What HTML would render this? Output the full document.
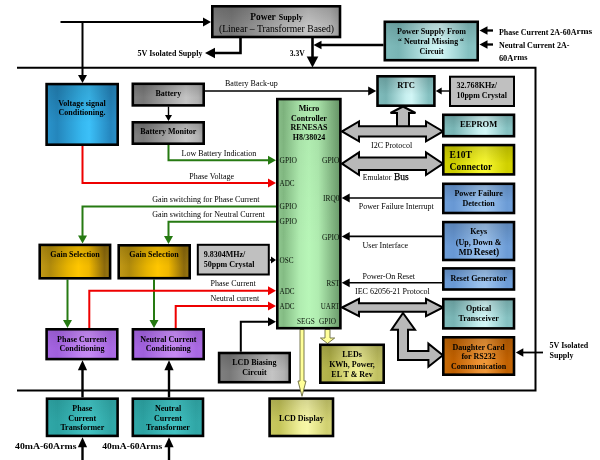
<!DOCTYPE html>
<html><head><meta charset="utf-8"><title>Energy meter block diagram</title>
<style>html,body{margin:0;padding:0;background:#fff;width:600px;height:460px;overflow:hidden}svg{display:block;filter:blur(0.35px);font-family:"Liberation Serif",serif}</style>
</head><body>
<svg width="600" height="460" viewBox="0 0 600 460" font-family='"Liberation Serif", serif'>
<defs><linearGradient id="g_gray" x1="0" y1="0" x2="1" y2="0"><stop offset="0" stop-color="#808080"/><stop offset="0.15" stop-color="#787878"/><stop offset="0.55" stop-color="#acacac"/><stop offset="0.75" stop-color="#c4c4c4"/><stop offset="0.92" stop-color="#b2b2b2"/><stop offset="1" stop-color="#989898"/></linearGradient><linearGradient id="g_blue" x1="0" y1="0" x2="1" y2="0"><stop offset="0" stop-color="#2a94cc"/><stop offset="0.15" stop-color="#2486bc"/><stop offset="0.5" stop-color="#36b8f0"/><stop offset="0.6" stop-color="#3cc0f8"/><stop offset="0.9" stop-color="#2586be"/><stop offset="1" stop-color="#2a90c8"/></linearGradient><linearGradient id="g_green" x1="0" y1="0" x2="1" y2="0"><stop offset="0" stop-color="#90c890"/><stop offset="0.1" stop-color="#84bc84"/><stop offset="0.35" stop-color="#b0ecb0"/><stop offset="0.5" stop-color="#b8f6b8"/><stop offset="0.65" stop-color="#b0ecb0"/><stop offset="0.88" stop-color="#82b682"/><stop offset="1" stop-color="#6a9a6a"/></linearGradient><linearGradient id="g_tealL" x1="0" y1="0" x2="1" y2="0"><stop offset="0" stop-color="#80bcbc"/><stop offset="0.15" stop-color="#78b4b4"/><stop offset="0.5" stop-color="#c8f0f0"/><stop offset="0.6" stop-color="#d2f6f6"/><stop offset="0.9" stop-color="#84c0c0"/><stop offset="1" stop-color="#8ac4c4"/></linearGradient><linearGradient id="g_yellow" x1="0" y1="0" x2="1" y2="0"><stop offset="0" stop-color="#d4d400"/><stop offset="0.15" stop-color="#cccc00"/><stop offset="0.5" stop-color="#f4f428"/><stop offset="0.6" stop-color="#f8f830"/><stop offset="0.9" stop-color="#d0d000"/><stop offset="1" stop-color="#d4d400"/></linearGradient><linearGradient id="g_blue2" x1="0" y1="0" x2="1" y2="0"><stop offset="0" stop-color="#6e9ed8"/><stop offset="0.15" stop-color="#6898d4"/><stop offset="0.5" stop-color="#98c0ec"/><stop offset="0.6" stop-color="#9ec4ee"/><stop offset="0.9" stop-color="#6c9cd6"/><stop offset="1" stop-color="#70a0da"/></linearGradient><linearGradient id="g_orange" x1="0" y1="0" x2="1" y2="0"><stop offset="0" stop-color="#c86c08"/><stop offset="0.15" stop-color="#c06000"/><stop offset="0.5" stop-color="#ec9234"/><stop offset="0.6" stop-color="#f09838"/><stop offset="0.9" stop-color="#c06000"/><stop offset="1" stop-color="#c46808"/></linearGradient><linearGradient id="g_gold" x1="0" y1="0" x2="1" y2="0"><stop offset="0" stop-color="#c29a18"/><stop offset="0.15" stop-color="#b08a0c"/><stop offset="0.4" stop-color="#e8b400"/><stop offset="0.55" stop-color="#ffc600"/><stop offset="0.7" stop-color="#f0b800"/><stop offset="0.92" stop-color="#8c6a0c"/><stop offset="1" stop-color="#9a7812"/></linearGradient><linearGradient id="g_purple" x1="0" y1="0" x2="1" y2="0"><stop offset="0" stop-color="#a666e2"/><stop offset="0.15" stop-color="#a060dc"/><stop offset="0.5" stop-color="#c286f2"/><stop offset="0.6" stop-color="#c68af4"/><stop offset="0.9" stop-color="#a868e2"/><stop offset="1" stop-color="#ac6ce4"/></linearGradient><linearGradient id="g_olive" x1="0" y1="0" x2="1" y2="0"><stop offset="0" stop-color="#b8b850"/><stop offset="0.15" stop-color="#b0b048"/><stop offset="0.5" stop-color="#ecec90"/><stop offset="0.6" stop-color="#f0f098"/><stop offset="0.9" stop-color="#c0c060"/><stop offset="1" stop-color="#c4c468"/></linearGradient><linearGradient id="g_lcd" x1="0" y1="0" x2="1" y2="0"><stop offset="0" stop-color="#c8c860"/><stop offset="0.15" stop-color="#c4c458"/><stop offset="0.5" stop-color="#f4f4a0"/><stop offset="0.6" stop-color="#f8f8a8"/><stop offset="0.9" stop-color="#d0d070"/><stop offset="1" stop-color="#d4d478"/></linearGradient><linearGradient id="g_teal" x1="0" y1="0" x2="1" y2="0"><stop offset="0" stop-color="#30a8a8"/><stop offset="0.15" stop-color="#2ca2a2"/><stop offset="0.5" stop-color="#3ebebe"/><stop offset="0.6" stop-color="#42c2c2"/><stop offset="0.9" stop-color="#30a6a6"/><stop offset="1" stop-color="#32aaaa"/></linearGradient><linearGradient id="g_shade" x1="0" y1="0" x2="0" y2="1"><stop offset="0" stop-color="#000" stop-opacity="0.14"/><stop offset="0.65" stop-color="#000" stop-opacity="0"/></linearGradient></defs>
<rect width="600" height="460" fill="#fff"/>
<polyline points="17,67.8 535.5,67.8 535.5,390.5 17,390.5" fill="none" stroke="#000" stroke-width="2" stroke-linejoin="miter" stroke-linecap="butt"/>
<polyline points="60.5,22 205,22" fill="none" stroke="#000" stroke-width="2" stroke-linejoin="miter" stroke-linecap="butt"/>
<polygon points="211.00,22.00 203.00,17.50 203.00,26.50" fill="#000"/>
<polyline points="82.5,22 82.5,76" fill="none" stroke="#000" stroke-width="2" stroke-linejoin="miter" stroke-linecap="butt"/>
<polygon points="82.50,83.00 78.00,75.00 87.00,75.00" fill="#000"/>
<polyline points="240.5,37 240.5,53 212,53" fill="none" stroke="#000" stroke-width="2.6" stroke-linejoin="miter" stroke-linecap="butt"/>
<polygon points="205.00,53.00 215.00,47.70 215.00,58.30" fill="#000"/>
<polyline points="312.5,37 312.5,57" fill="none" stroke="#000" stroke-width="2.6" stroke-linejoin="miter" stroke-linecap="butt"/>
<polygon points="312.50,67.50 306.70,56.50 318.30,56.50" fill="#000"/>
<polyline points="383.5,45 320,45" fill="none" stroke="#000" stroke-width="2.3" stroke-linejoin="miter" stroke-linecap="butt"/>
<polygon points="313.50,45.00 321.50,40.70 321.50,49.30" fill="#000"/>
<polyline points="493,30.5 486,30.5" fill="none" stroke="#000" stroke-width="2.3" stroke-linejoin="miter" stroke-linecap="butt"/>
<polygon points="479.50,30.50 487.50,26.20 487.50,34.80" fill="#000"/>
<polyline points="493,44.5 486,44.5" fill="none" stroke="#000" stroke-width="2.3" stroke-linejoin="miter" stroke-linecap="butt"/>
<polygon points="479.50,44.50 487.50,40.20 487.50,48.80" fill="#000"/>
<polyline points="205,91 369,91" fill="none" stroke="#000" stroke-width="1.6" stroke-linejoin="miter" stroke-linecap="butt"/>
<polygon points="376.20,91.00 368.20,86.60 368.20,95.40" fill="#000"/>
<polyline points="449,91 440,91" fill="none" stroke="#000" stroke-width="1.4" stroke-linejoin="miter" stroke-linecap="butt"/>
<polygon points="435.70,91.00 441.70,87.50 441.70,94.50" fill="#000"/>
<polyline points="168.5,106.5 168.5,116" fill="none" stroke="#000" stroke-width="1.4" stroke-linejoin="miter" stroke-linecap="butt"/>
<polygon points="168.50,121.00 165.00,115.00 172.00,115.00" fill="#000"/>
<polyline points="168.5,145 168.5,160.3 268,160.3" fill="none" stroke="#267a12" stroke-width="2" stroke-linejoin="miter" stroke-linecap="butt"/>
<polygon points="276.00,160.30 268.00,155.80 268.00,164.80" fill="#267a12"/>
<polyline points="82.5,145.5 82.5,183 268,183" fill="none" stroke="#ee0000" stroke-width="2" stroke-linejoin="miter" stroke-linecap="butt"/>
<polygon points="276.00,183.00 268.00,178.50 268.00,187.50" fill="#ee0000"/>
<polyline points="276,206.5 82.5,206.5 82.5,236" fill="none" stroke="#267a12" stroke-width="2" stroke-linejoin="miter" stroke-linecap="butt"/>
<polygon points="82.50,243.60 78.00,235.60 87.00,235.60" fill="#267a12"/>
<polyline points="276,221.7 168.5,221.7 168.5,236" fill="none" stroke="#267a12" stroke-width="2" stroke-linejoin="miter" stroke-linecap="butt"/>
<polygon points="168.50,244.00 164.00,236.00 173.00,236.00" fill="#267a12"/>
<polyline points="67.5,279.6 67.5,320" fill="none" stroke="#267a12" stroke-width="2" stroke-linejoin="miter" stroke-linecap="butt"/>
<polygon points="67.50,328.00 63.00,320.00 72.00,320.00" fill="#267a12"/>
<polyline points="154,279.5 154,320" fill="none" stroke="#267a12" stroke-width="2" stroke-linejoin="miter" stroke-linecap="butt"/>
<polygon points="154.00,328.00 149.50,320.00 158.50,320.00" fill="#267a12"/>
<polyline points="89.3,328 89.3,290.8 268,290.8" fill="none" stroke="#ee0000" stroke-width="2" stroke-linejoin="miter" stroke-linecap="butt"/>
<polygon points="276.00,290.80 268.00,286.30 268.00,295.30" fill="#ee0000"/>
<polyline points="175.7,328 175.7,306 268,306" fill="none" stroke="#ee0000" stroke-width="2" stroke-linejoin="miter" stroke-linecap="butt"/>
<polygon points="276.00,306.00 268.00,301.50 268.00,310.50" fill="#ee0000"/>
<polyline points="269.8,260 271,260" fill="none" stroke="#000" stroke-width="1.4" stroke-linejoin="miter" stroke-linecap="butt"/>
<polygon points="276.00,260.00 271.00,256.50 271.00,263.50" fill="#000"/>
<polyline points="240.8,351.7 240.8,321.7 268,321.7" fill="none" stroke="#000" stroke-width="2" stroke-linejoin="miter" stroke-linecap="butt"/>
<polygon points="276.00,321.70 268.00,317.20 268.00,326.20" fill="#000"/>
<polyline points="82.5,397.4 82.5,369" fill="none" stroke="#000" stroke-width="2.4" stroke-linejoin="miter" stroke-linecap="butt"/>
<polygon points="82.50,360.20 77.90,370.20 87.10,370.20" fill="#000"/>
<polyline points="169,397.4 169,369" fill="none" stroke="#000" stroke-width="2.4" stroke-linejoin="miter" stroke-linecap="butt"/>
<polygon points="169.00,360.20 164.40,370.20 173.60,370.20" fill="#000"/>
<polyline points="82.5,460 82.5,446" fill="none" stroke="#000" stroke-width="2.4" stroke-linejoin="miter" stroke-linecap="butt"/>
<polygon points="82.50,437.20 77.90,447.20 87.10,447.20" fill="#000"/>
<polyline points="169,460 169,446" fill="none" stroke="#000" stroke-width="2.4" stroke-linejoin="miter" stroke-linecap="butt"/>
<polygon points="169.00,437.20 164.40,447.20 173.60,447.20" fill="#000"/>
<polyline points="442,198 349,198" fill="none" stroke="#000" stroke-width="1.6" stroke-linejoin="miter" stroke-linecap="butt"/>
<polygon points="341.70,198.00 349.70,193.60 349.70,202.40" fill="#000"/>
<polyline points="442,236.4 349,236.4" fill="none" stroke="#000" stroke-width="1.6" stroke-linejoin="miter" stroke-linecap="butt"/>
<polygon points="341.70,236.40 349.70,232.00 349.70,240.80" fill="#000"/>
<polyline points="442,282.8 349,282.8" fill="none" stroke="#000" stroke-width="1.6" stroke-linejoin="miter" stroke-linecap="butt"/>
<polygon points="341.70,282.80 349.70,278.40 349.70,287.20" fill="#000"/>
<polyline points="543,352.5 523,352.5" fill="none" stroke="#000" stroke-width="1.8" stroke-linejoin="miter" stroke-linecap="butt"/>
<polygon points="515.80,352.50 523.30,348.20 523.30,356.80" fill="#000"/>
<polygon points="403.00,106.50 415.50,113.00 409.00,113.00 409.00,127.00 397.00,127.00 397.00,113.00 390.50,113.00" fill="#b8b8b8" stroke="#000" stroke-width="2" stroke-linejoin="miter"/>
<polygon points="342.00,131.40 359.00,121.50 359.00,126.30 426.00,126.30 426.00,121.50 443.00,131.40 426.00,141.30 426.00,136.50 359.00,136.50 359.00,141.30" fill="#b8b8b8" stroke="#000" stroke-width="2" stroke-linejoin="miter"/>
<polygon points="342.00,163.70 359.00,152.40 359.00,157.50 426.00,157.50 426.00,152.40 443.00,163.70 426.00,175.00 426.00,169.90 359.00,169.90 359.00,175.00" fill="#b8b8b8" stroke="#000" stroke-width="2" stroke-linejoin="miter"/>
<polygon points="342.00,307.50 359.00,298.90 359.00,303.20 426.00,303.20 426.00,298.90 443.00,307.50 426.00,316.10 426.00,311.80 359.00,311.80 359.00,316.10" fill="#b8b8b8" stroke="#000" stroke-width="2" stroke-linejoin="miter"/>
<polygon points="403.00,313.00 415.00,329.70 408.00,329.70 408.00,351.00 428.40,351.00 428.40,343.60 442.80,355.20 428.40,366.70 428.40,360.00 398.00,360.00 398.00,329.70 391.50,329.70" fill="#b8b8b8" stroke="#000" stroke-width="2" stroke-linejoin="miter"/>
<polygon points="300.00,329.50 304.00,329.50 304.00,381.00 306.00,381.00 302.00,396.30 298.00,381.00 300.00,381.00" fill="#ffff99" stroke="#6a6a40" stroke-width="0.9" stroke-linejoin="miter"/>
<polygon points="325.00,329.50 330.00,329.50 330.00,338.00 334.70,338.00 327.50,343.50 320.40,338.00 325.00,338.00" fill="#ffff99" stroke="#6a6a40" stroke-width="0.9" stroke-linejoin="miter"/>
<rect x="212.30" y="6.30" width="127.70" height="30.70" fill="url(#g_gray)" stroke="#000" stroke-width="2.6"/>
<rect x="213.60" y="7.60" width="125.10" height="28.10" fill="url(#g_shade)" opacity="1"/>
<rect x="384.80" y="21.80" width="92.90" height="38.40" fill="url(#g_tealL)" stroke="#000" stroke-width="2.6"/>
<rect x="386.10" y="23.10" width="90.30" height="35.80" fill="url(#g_shade)" opacity="1"/>
<rect x="46.60" y="84.10" width="71.10" height="60.60" fill="url(#g_blue)" stroke="#000" stroke-width="2.6"/>
<rect x="47.90" y="85.40" width="68.50" height="58.00" fill="url(#g_shade)" opacity="1"/>
<rect x="132.80" y="83.80" width="70.90" height="21.60" fill="url(#g_gray)" stroke="#000" stroke-width="2.6"/>
<rect x="134.10" y="85.10" width="68.30" height="19.00" fill="url(#g_shade)" opacity="1"/>
<rect x="132.80" y="122.30" width="70.90" height="21.40" fill="url(#g_gray)" stroke="#000" stroke-width="2.6"/>
<rect x="134.10" y="123.60" width="68.30" height="18.80" fill="url(#g_shade)" opacity="1"/>
<rect x="277.30" y="99.10" width="63.10" height="229.10" fill="url(#g_green)" stroke="#000" stroke-width="2.6"/>
<rect x="278.60" y="100.40" width="60.50" height="226.50" fill="url(#g_shade)" opacity="0.4"/>
<rect x="377.50" y="76.30" width="56.90" height="29.40" fill="url(#g_tealL)" stroke="#000" stroke-width="2.6"/>
<rect x="378.80" y="77.60" width="54.30" height="26.80" fill="url(#g_shade)" opacity="1"/>
<rect x="450.00" y="76.70" width="64.00" height="29.30" fill="#c0c0c0" stroke="#000" stroke-width="2"/>
<rect x="443.30" y="114.80" width="70.70" height="21.40" fill="url(#g_tealL)" stroke="#000" stroke-width="2.6"/>
<rect x="444.60" y="116.10" width="68.10" height="18.80" fill="url(#g_shade)" opacity="1"/>
<rect x="443.30" y="145.10" width="70.70" height="29.30" fill="url(#g_yellow)" stroke="#000" stroke-width="2.6"/>
<rect x="444.60" y="146.40" width="68.10" height="26.70" fill="url(#g_shade)" opacity="1"/>
<rect x="443.30" y="183.80" width="70.70" height="29.20" fill="url(#g_blue2)" stroke="#000" stroke-width="2.6"/>
<rect x="444.60" y="185.10" width="68.10" height="26.60" fill="url(#g_shade)" opacity="1"/>
<rect x="443.30" y="222.10" width="70.70" height="37.90" fill="url(#g_blue2)" stroke="#000" stroke-width="2.6"/>
<rect x="444.60" y="223.40" width="68.10" height="35.30" fill="url(#g_shade)" opacity="1"/>
<rect x="443.30" y="268.40" width="70.70" height="21.10" fill="url(#g_blue2)" stroke="#000" stroke-width="2.6"/>
<rect x="444.60" y="269.70" width="68.10" height="18.50" fill="url(#g_shade)" opacity="1"/>
<rect x="443.30" y="299.10" width="70.70" height="29.30" fill="url(#g_tealL)" stroke="#000" stroke-width="2.6"/>
<rect x="444.60" y="300.40" width="68.10" height="26.70" fill="url(#g_shade)" opacity="1"/>
<rect x="443.30" y="337.30" width="70.70" height="37.40" fill="url(#g_orange)" stroke="#000" stroke-width="2.6"/>
<rect x="444.60" y="338.60" width="68.10" height="34.80" fill="url(#g_shade)" opacity="1"/>
<rect x="39.70" y="244.90" width="70.40" height="33.40" fill="url(#g_gold)" stroke="#000" stroke-width="2.6"/>
<rect x="41.00" y="246.20" width="67.80" height="30.80" fill="url(#g_shade)" opacity="1"/>
<rect x="118.70" y="245.30" width="71.00" height="32.90" fill="url(#g_gold)" stroke="#000" stroke-width="2.6"/>
<rect x="120.00" y="246.60" width="68.40" height="30.30" fill="url(#g_shade)" opacity="1"/>
<rect x="197.80" y="244.80" width="71.00" height="29.70" fill="#c0c0c0" stroke="#000" stroke-width="2"/>
<rect x="46.60" y="329.30" width="70.70" height="29.80" fill="url(#g_purple)" stroke="#000" stroke-width="2.6"/>
<rect x="47.90" y="330.60" width="68.10" height="27.20" fill="url(#g_shade)" opacity="0.6"/>
<rect x="132.90" y="329.30" width="70.80" height="29.80" fill="url(#g_purple)" stroke="#000" stroke-width="2.6"/>
<rect x="134.20" y="330.60" width="68.20" height="27.20" fill="url(#g_shade)" opacity="0.6"/>
<rect x="219.10" y="353.00" width="70.60" height="29.20" fill="url(#g_gray)" stroke="#000" stroke-width="2.6"/>
<rect x="220.40" y="354.30" width="68.00" height="26.60" fill="url(#g_shade)" opacity="1"/>
<rect x="320.30" y="344.80" width="63.40" height="37.90" fill="url(#g_olive)" stroke="#000" stroke-width="2.6"/>
<rect x="321.60" y="346.10" width="60.80" height="35.30" fill="url(#g_shade)" opacity="1"/>
<rect x="269.60" y="398.60" width="63.40" height="37.40" fill="url(#g_lcd)" stroke="#000" stroke-width="2.6"/>
<rect x="270.90" y="399.90" width="60.80" height="34.80" fill="url(#g_shade)" opacity="1"/>
<rect x="47.00" y="398.70" width="70.60" height="37.20" fill="url(#g_teal)" stroke="#000" stroke-width="2.6"/>
<rect x="48.30" y="400.00" width="68.00" height="34.60" fill="url(#g_shade)" opacity="0.5"/>
<rect x="132.80" y="398.70" width="70.20" height="37.20" fill="url(#g_teal)" stroke="#000" stroke-width="2.6"/>
<rect x="134.10" y="400.00" width="67.60" height="34.60" fill="url(#g_shade)" opacity="0.5"/>
<text x="250.2" y="20.1" text-anchor="start"><tspan font-size="9.5" font-weight="bold" textLength="25.6" lengthAdjust="spacingAndGlyphs">Power</tspan><tspan x="278.7" font-size="8.5" font-weight="bold" textLength="24" lengthAdjust="spacingAndGlyphs">Supply</tspan></text>
<text x="276.5" y="31.87" font-size="9.6" font-weight="normal" text-anchor="middle" fill="#000" textLength="115" lengthAdjust="spacingAndGlyphs">(Linear – Transformer Based)</text>
<text x="137.5" y="56.06" font-size="8" font-weight="bold" text-anchor="start" fill="#000" textLength="65" lengthAdjust="spacingAndGlyphs">5V Isolated Supply</text>
<text x="289.8" y="56.06" font-size="8" font-weight="bold" text-anchor="start" fill="#000" textLength="15" lengthAdjust="spacingAndGlyphs">3.3V</text>
<text x="397" y="33.96" font-size="8" font-weight="bold" text-anchor="start" fill="#000" textLength="69" lengthAdjust="spacingAndGlyphs">Power Supply From</text>
<text x="398" y="44.16" font-size="8" font-weight="bold" text-anchor="start" fill="#000" textLength="66" lengthAdjust="spacingAndGlyphs">“ Neutral Missing “</text>
<text x="419.6" y="54.16" font-size="8" font-weight="bold" text-anchor="start" fill="#000" textLength="24" lengthAdjust="spacingAndGlyphs">Circuit</text>
<text y="34.6" font-size="8" font-weight="bold"><tspan x="498.9" textLength="77.5" lengthAdjust="spacingAndGlyphs">Phase Current 2A-60A</tspan></text><text y="34.2" font-size="8" font-weight="bold"><tspan x="576.6" textLength="15.6" lengthAdjust="spacingAndGlyphs">rms</tspan></text>
<text x="498.9" y="48.36" font-size="8" font-weight="bold" text-anchor="start" fill="#000" textLength="70.5" lengthAdjust="spacingAndGlyphs">Neutral Current 2A-</text>
<text y="60.5" font-size="8" font-weight="bold"><tspan x="498.9" textLength="14.5" lengthAdjust="spacingAndGlyphs">60A</tspan></text><text y="59.8" font-size="8" font-weight="bold"><tspan x="513.6" textLength="14" lengthAdjust="spacingAndGlyphs">rms</tspan></text>
<text x="82" y="105.56" font-size="8" font-weight="bold" text-anchor="middle" fill="#000">Voltage signal</text>
<text x="82" y="115.36" font-size="8" font-weight="bold" text-anchor="middle" fill="#000">Conditioning.</text>
<text x="168.3" y="95.86" font-size="8" font-weight="bold" text-anchor="middle" fill="#000">Battery</text>
<text x="168.3" y="134.26" font-size="8" font-weight="bold" text-anchor="middle" fill="#000">Battery Monitor</text>
<text x="225" y="86.31" font-size="8" font-weight="normal" text-anchor="start" fill="#000">Battery Back-up</text>
<text x="309" y="111.16" font-size="8" font-weight="bold" text-anchor="middle" fill="#000">Micro</text>
<text x="309" y="120.76" font-size="8" font-weight="bold" text-anchor="middle" fill="#000">Controller</text>
<text x="309" y="130.46" font-size="8" font-weight="bold" text-anchor="middle" fill="#000">RENESAS</text>
<text x="309" y="140.36" font-size="8" font-weight="bold" text-anchor="middle" fill="#000">H8/38024</text>
<text x="279.5" y="162.96" font-size="8" font-weight="normal" text-anchor="start" fill="#0a140a" textLength="17.5" lengthAdjust="spacingAndGlyphs">GPIO</text>
<text x="279.5" y="185.56" font-size="8" font-weight="normal" text-anchor="start" fill="#0a140a" textLength="15" lengthAdjust="spacingAndGlyphs">ADC</text>
<text x="279.5" y="208.86" font-size="8" font-weight="normal" text-anchor="start" fill="#0a140a" textLength="17.5" lengthAdjust="spacingAndGlyphs">GPIO</text>
<text x="279.5" y="224.26" font-size="8" font-weight="normal" text-anchor="start" fill="#0a140a" textLength="17.5" lengthAdjust="spacingAndGlyphs">GPIO</text>
<text x="279.5" y="262.56" font-size="8" font-weight="normal" text-anchor="start" fill="#0a140a" textLength="14" lengthAdjust="spacingAndGlyphs">OSC</text>
<text x="279.5" y="293.56" font-size="8" font-weight="normal" text-anchor="start" fill="#0a140a" textLength="15" lengthAdjust="spacingAndGlyphs">ADC</text>
<text x="279.5" y="308.56" font-size="8" font-weight="normal" text-anchor="start" fill="#0a140a" textLength="15" lengthAdjust="spacingAndGlyphs">ADC</text>
<text x="322.0" y="162.96" font-size="8" font-weight="normal" text-anchor="start" fill="#0a140a" textLength="17.5" lengthAdjust="spacingAndGlyphs">GPIO</text>
<text x="323.0" y="200.76" font-size="8" font-weight="normal" text-anchor="start" fill="#0a140a" textLength="16.5" lengthAdjust="spacingAndGlyphs">IRQ0</text>
<text x="322.0" y="239.56" font-size="8" font-weight="normal" text-anchor="start" fill="#0a140a" textLength="17.5" lengthAdjust="spacingAndGlyphs">GPIO</text>
<text x="326.5" y="285.76" font-size="8" font-weight="normal" text-anchor="start" fill="#0a140a" textLength="13" lengthAdjust="spacingAndGlyphs">RST</text>
<text x="320.8" y="309.06" font-size="8" font-weight="normal" text-anchor="start" fill="#0a140a" textLength="18.7" lengthAdjust="spacingAndGlyphs">UART</text>
<text x="296.9" y="323.76" font-size="8" font-weight="normal" text-anchor="start" fill="#0a140a" textLength="17.9" lengthAdjust="spacingAndGlyphs">SEGS</text>
<text x="319.1" y="323.76" font-size="8" font-weight="normal" text-anchor="start" fill="#0a140a" textLength="17" lengthAdjust="spacingAndGlyphs">GPIO</text>
<text x="181.5" y="155.86" font-size="8" font-weight="normal" text-anchor="start" fill="#000">Low Battery Indication</text>
<text x="189.2" y="178.76" font-size="8" font-weight="normal" text-anchor="start" fill="#000">Phase Voltage</text>
<text x="152.3" y="201.56" font-size="8" font-weight="normal" text-anchor="start" fill="#000">Gain switching for Phase Current</text>
<text x="152.3" y="216.76" font-size="8" font-weight="normal" text-anchor="start" fill="#000">Gain switching for Neutral Current</text>
<text x="75" y="256.56" font-size="8" font-weight="bold" text-anchor="middle" fill="#000">Gain Selection</text>
<text x="154" y="256.56" font-size="8" font-weight="bold" text-anchor="middle" fill="#000">Gain Selection</text>
<text x="203.7" y="256.56" font-size="8" font-weight="bold" text-anchor="start" fill="#000">9.8304MHz/</text>
<text x="203.7" y="266.96" font-size="8" font-weight="bold" text-anchor="start" fill="#000">50ppm Crystal</text>
<text x="210.5" y="285.56" font-size="8" font-weight="normal" text-anchor="start" fill="#000">Phase Current</text>
<text x="210.5" y="301.16" font-size="8" font-weight="normal" text-anchor="start" fill="#000">Neutral current</text>
<text x="82" y="341.66" font-size="8" font-weight="bold" text-anchor="middle" fill="#000">Phase Current</text>
<text x="82" y="351.46" font-size="8" font-weight="bold" text-anchor="middle" fill="#000">Conditioning</text>
<text x="168.3" y="341.66" font-size="8" font-weight="bold" text-anchor="middle" fill="#000">Neutral Current</text>
<text x="168.3" y="351.46" font-size="8" font-weight="bold" text-anchor="middle" fill="#000">Conditioning</text>
<text x="254.4" y="365.26" font-size="8" font-weight="bold" text-anchor="middle" fill="#000">LCD Biasing</text>
<text x="254.4" y="374.86" font-size="8" font-weight="bold" text-anchor="middle" fill="#000">Circuit</text>
<text x="352" y="356.86" font-size="8" font-weight="bold" text-anchor="middle" fill="#000">LEDs</text>
<text x="352" y="366.86" font-size="8" font-weight="bold" text-anchor="middle" fill="#000">KWh, Power,</text>
<text x="352" y="376.56" font-size="8" font-weight="bold" text-anchor="middle" fill="#000">EL T &amp; Rev</text>
<text x="301.3" y="420.86" font-size="8" font-weight="bold" text-anchor="middle" fill="#000">LCD Display</text>
<text x="82.3" y="410.76" font-size="8" font-weight="bold" text-anchor="middle" fill="#000">Phase</text>
<text x="82.3" y="420.76" font-size="8" font-weight="bold" text-anchor="middle" fill="#000">Current</text>
<text x="82.3" y="430.36" font-size="8" font-weight="bold" text-anchor="middle" fill="#000">Transformer</text>
<text x="168" y="410.76" font-size="8" font-weight="bold" text-anchor="middle" fill="#000">Neutral</text>
<text x="168" y="420.76" font-size="8" font-weight="bold" text-anchor="middle" fill="#000">Current</text>
<text x="168" y="430.36" font-size="8" font-weight="bold" text-anchor="middle" fill="#000">Transformer</text>
<text x="15" y="448.62" font-size="8.5" font-weight="bold" text-anchor="start" fill="#000" textLength="61.5" lengthAdjust="spacingAndGlyphs">40mA-60Arms</text>
<text x="102.3" y="448.62" font-size="8.5" font-weight="bold" text-anchor="start" fill="#000" textLength="60" lengthAdjust="spacingAndGlyphs">40mA-60Arms</text>
<text x="406" y="87.72" font-size="8.5" font-weight="bold" text-anchor="middle" fill="#000">RTC</text>
<text x="456.5" y="87.56" font-size="8" font-weight="bold" text-anchor="start" fill="#000" textLength="40.5" lengthAdjust="spacingAndGlyphs">32.768KHz/</text>
<text x="456.5" y="97.76" font-size="8" font-weight="bold" text-anchor="start" fill="#000" textLength="50.5" lengthAdjust="spacingAndGlyphs">10ppm Crystal</text>
<text x="478.6" y="127.22" font-size="8.5" font-weight="bold" text-anchor="middle" fill="#000">EEPROM</text>
<text x="371" y="147.56" font-size="8" font-weight="normal" text-anchor="start" fill="#000">I2C Protocol</text>
<text x="362.8" y="180.1" font-size="9.2" textLength="28.4" lengthAdjust="spacingAndGlyphs">Emulator</text>
<text x="394" y="180.4" font-size="10.5" stroke="#000" stroke-width="0.25" textLength="14.8" lengthAdjust="spacingAndGlyphs">Bus</text>
<text x="449.6" y="157.64" font-size="9.5" font-weight="bold" text-anchor="start" fill="#000">E10T</text>
<text x="449.6" y="170.24" font-size="9.5" font-weight="bold" text-anchor="start" fill="#000">Connector</text>
<text x="358.75" y="208.81" font-size="8" font-weight="normal" text-anchor="start" fill="#000">Power Failure Interrupt</text>
<text x="478.6" y="195.56" font-size="8" font-weight="bold" text-anchor="middle" fill="#000">Power Failure</text>
<text x="478.6" y="205.56" font-size="8" font-weight="bold" text-anchor="middle" fill="#000">Detection</text>
<text x="362.5" y="247.56" font-size="8" font-weight="normal" text-anchor="start" fill="#000">User Interface</text>
<text x="478.6" y="234.06" font-size="8" font-weight="bold" text-anchor="middle" fill="#000">Keys</text>
<text x="478.6" y="244.56" font-size="8" font-weight="bold" text-anchor="middle" fill="#000">(Up, Down &amp;</text>
<text x="458.8" y="254.6" font-size="7.5" font-weight="bold" textLength="13.7" lengthAdjust="spacingAndGlyphs">MD</text>
<text x="473.8" y="255.2" font-size="9.5" font-weight="bold" textLength="25.5" lengthAdjust="spacingAndGlyphs">Reset)</text>
<text x="362.5" y="278.81" font-size="8" font-weight="normal" text-anchor="start" fill="#000">Power-On Reset</text>
<text x="355" y="293.96" font-size="8" font-weight="normal" text-anchor="start" fill="#000">IEC 62056-21 Protocol</text>
<text x="478.6" y="280.56" font-size="8" font-weight="bold" text-anchor="middle" fill="#000">Reset Generator</text>
<text x="478.6" y="311.16" font-size="8" font-weight="bold" text-anchor="middle" fill="#000">Optical</text>
<text x="478.6" y="320.96" font-size="8" font-weight="bold" text-anchor="middle" fill="#000">Transceiver</text>
<text x="478.6" y="349.66" font-size="8" font-weight="bold" text-anchor="middle" fill="#000">Daughter Card</text>
<text x="478.6" y="359.06" font-size="8" font-weight="bold" text-anchor="middle" fill="#000">for RS232</text>
<text x="478.6" y="368.86" font-size="8" font-weight="bold" text-anchor="middle" fill="#000">Communication</text>
<text x="549.5" y="348.06" font-size="8" font-weight="bold" text-anchor="start" fill="#000">5V Isolated</text>
<text x="549.5" y="357.86" font-size="8" font-weight="bold" text-anchor="start" fill="#000">Supply</text>
</svg>
</body></html>
